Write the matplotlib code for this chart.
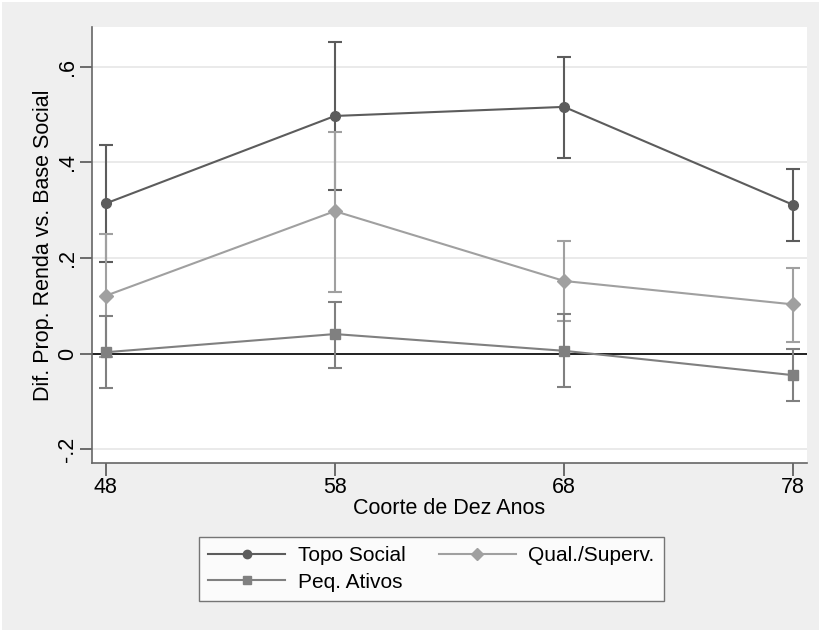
import numpy as np
import matplotlib
matplotlib.use('Agg')
import matplotlib.pyplot as plt
from matplotlib.lines import Line2D

plt.rcParams['font.family'] = ['Liberation Sans', 'DejaVu Sans']

coortes = [48, 58, 68, 78]

topo = [0.314, 0.497, 0.516, 0.311]
topo_lo = [0.191, 0.342, 0.410, 0.235]
topo_hi = [0.437, 0.651, 0.620, 0.387]

qual = [0.121, 0.298, 0.152, 0.103]
qual_lo = [-0.008, 0.129, 0.069, 0.025]
qual_hi = [0.250, 0.463, 0.235, 0.180]

peq = [0.003, 0.041, 0.006, -0.045]
peq_lo = [-0.072, -0.030, -0.070, -0.099]
peq_hi = [0.078, 0.108, 0.082, 0.010]

yticks = [-0.2, 0, 0.2, 0.4, 0.6]
ytick_labels = ['-.2', '0', '.2', '.4', '.6']

fig = plt.figure(figsize=(8.2, 6.31), dpi=100)
fig.patch.set_facecolor('#efefef')
fig.patch.set_edgecolor('white')
fig.patch.set_linewidth(2)
ax = fig.add_axes([0.1118, 0.2667, 0.872, 0.6905])
ax.set_facecolor('white')

series = [
    ('Topo Social', topo, topo_lo, topo_hi, '#5c5c5c', 'o', 7),
    ('Qual./Superv.', qual, qual_lo, qual_hi, '#a0a0a0', 'D', 7.5),
    ('Peq. Ativos', peq, peq_lo, peq_hi, '#808080', 's', 7),
]

handles = {}
for name, v, lo, hi, col, mk, ms in series:
    v = np.array(v)
    err = [v - np.array(lo), np.array(hi) - v]
    ax.errorbar(coortes, v, yerr=err, color=col, marker=mk, markersize=ms,
                linewidth=1.5, elinewidth=1.5, capsize=5, capthick=1.5,
                zorder=3)
    handles[name] = Line2D([], [], color=col, marker=mk, markersize=ms - 1,
                           linewidth=1.5)

ax.axhline(0, color='#111111', linewidth=1.3, zorder=2)

ax.set_xlim(47.39, 78.585)
ax.set_ylim(-0.228, 0.683)
ax.set_xticks(coortes)
ax.set_xticklabels([str(c) for c in coortes])
ax.set_yticks(yticks)
ax.set_yticklabels(ytick_labels, rotation=90, va='center')
ax.grid(axis='y', color='#e6e6e6', linewidth=1.2, zorder=0)
ax.set_axisbelow(True)

for s in ['top', 'right']:
    ax.spines[s].set_visible(False)
for s in ['left', 'bottom']:
    ax.spines[s].set_color('#666666')
    ax.spines[s].set_linewidth(1.2)
ax.tick_params(axis='both', length=9, width=1.2, color='#555555',
               labelsize=15.5)
ax.tick_params(axis='x', pad=1.5)
ax.tick_params(axis='y', pad=1)

ax.set_xlabel('Coorte de Dez Anos', fontsize=15.5, labelpad=0)
ax.set_ylabel('Dif. Prop. Renda vs. Base Social', fontsize=15.5, labelpad=2)

# column-first fill: Topo/Peq in the first column, Qual in the second
order = ['Topo Social', 'Peq. Ativos', 'Qual./Superv.']
leg = fig.legend([handles[k] for k in order], order,
                 loc='center', bbox_to_anchor=(0.526, 0.0983), ncol=2,
                 fontsize=15, frameon=True, fancybox=False,
                 handlelength=3.7, handletextpad=0.6, columnspacing=1.6,
                 labelspacing=0.35, borderpad=0.45)
leg.get_frame().set_edgecolor('#555555')
leg.get_frame().set_linewidth(1.0)

fig.savefig('out.png', dpi=100, facecolor=fig.get_facecolor())
